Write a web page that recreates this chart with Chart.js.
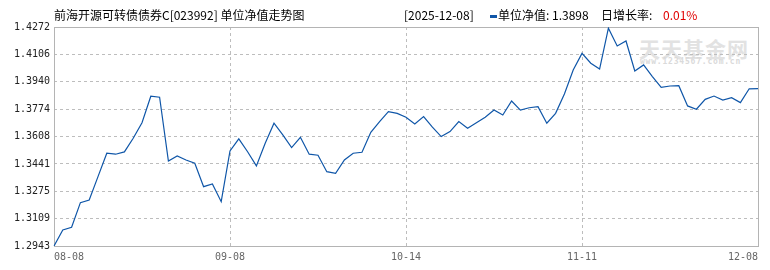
<!DOCTYPE html>
<html>
<head>
<meta charset="utf-8">
<script src="https://cdn.jsdelivr.net/npm/chart.js@4.4.1/dist/chart.umd.min.js"></script>
<style>
  html, body { margin: 0; padding: 0; background: #fff; }
  #wrap { position: relative; width: 770px; height: 270px; overflow: hidden; }
  #wrap canvas { position: absolute; left: 0; top: 0; z-index: 2; }
  .hd { position: absolute; top: 7px; font: 12px "Noto Sans CJK SC", sans-serif; color: #000; white-space: nowrap; line-height: 16px; z-index: 3; }
  .wm { position: absolute; z-index: 1; color: #e2e2e2; white-space: nowrap; }
</style>
</head>
<body>
<div id="wrap">
  <div class="hd" style="left:54px">前海开源可转债债券C[023992] 单位净值走势图</div>
  <div class="hd" style="left:404px">[2025-12-08]</div>
  <div class="hd" style="left:490px"><span style="display:inline-block;width:7px;height:3px;background:#0f56a8;vertical-align:middle;margin-right:1px"></span>单位净值: 1.3898</div>
  <div class="hd" style="left:601px">日增长率:</div>
  <div class="hd" style="left:663px;color:#e00000">0.01%</div>
  <div class="wm" style="left:639px;top:33px;font:bold 21px 'Noto Sans CJK SC',sans-serif;letter-spacing:1px">天天基金网</div>
  <div class="wm" style="left:640px;top:57px;font:bold 8px 'DejaVu Sans Mono',monospace;letter-spacing:0.8px;color:#dadada">www.1234567.com.cn</div>
  <canvas id="navChart" width="770" height="270"></canvas>
</div>
<script>
/* =========================
   DATA
========================= */
const dates = [
  "08-08","08-11","08-12","08-13","08-14","08-15","08-18","08-19","08-20","08-21",
  "08-22","08-25","08-26","08-27","08-28","08-29","09-01","09-02","09-03","09-04",
  "09-05","09-08","09-09","09-10","09-11","09-12","09-15","09-16","09-17","09-18",
  "09-19","09-22","09-23","09-24","09-25","09-26","09-29","09-30","10-09","10-10",
  "10-13","10-15","10-16","10-17","10-20","10-21","10-22","10-23","10-24","10-27",
  "10-28","10-29","10-30","10-31","11-03","11-04","11-05","11-06","11-07","11-10",
  "11-11","11-12","11-13","11-14","11-17","11-18","11-19","11-20","11-21","11-24",
  "11-25","11-26","11-27","11-28","12-01","12-02","12-03","12-04","12-05","12-06",
  "12-08"
];

const navValues = [
  1.2943, 1.3040, 1.3057, 1.3206, 1.3222, 1.3364, 1.3506, 1.3500, 1.3514, 1.3597,
  1.3691, 1.3852, 1.3846, 1.3459, 1.3489, 1.3465, 1.3445, 1.3303, 1.3319, 1.3212,
  1.3520, 1.3593, 1.3515, 1.3429, 1.3567, 1.3688, 1.3617, 1.3540, 1.3603, 1.3500,
  1.3494, 1.3394, 1.3384, 1.3465, 1.3506, 1.3512, 1.3633, 1.3698, 1.3758, 1.3748,
  1.3724, 1.3684, 1.3728, 1.3664, 1.3607, 1.3637, 1.3698, 1.3658, 1.3691, 1.3724,
  1.3768, 1.3738, 1.3823, 1.3768, 1.3782, 1.3788, 1.3688, 1.3748, 1.3866, 1.4011,
  1.4112, 1.4052, 1.4017, 1.4265, 1.4157, 1.4187, 1.4005, 1.4042, 1.3971, 1.3906,
  1.3914, 1.3916, 1.3793, 1.3773, 1.3833, 1.3853, 1.3829, 1.3843, 1.3813, 1.3897,
  1.3898
];

const yTickLabels = ["1.2943","1.3109","1.3275","1.3441","1.3608","1.3774","1.3940","1.4106","1.4272"];
const xTickIndex = [0, 20, 40, 60, 80];
const xTickLabels = ["08-08","09-08","10-14","11-11","12-08"];

/* =========================
   CHART
========================= */
(function initChart() {
  const yTicks = yTickLabels.map(Number);

  // plot frame (top/right/left/bottom) in solid gray
  const framePlugin = {
    id: "frame",
    beforeDatasetsDraw(chart) {
      const { ctx, chartArea: a } = chart;
      ctx.save();
      ctx.strokeStyle = "#b4b4b4";
      ctx.lineWidth = 1;
      ctx.strokeRect(Math.round(a.left) + 0.5, Math.round(a.top) + 0.5,
        Math.round(a.right - a.left), Math.round(a.bottom - a.top));
      ctx.restore();
    }
  };

  new Chart(document.getElementById("navChart"), {
    type: "line",
    data: {
      labels: dates,
      datasets: [{
        label: "单位净值",
        data: navValues,
        borderColor: "#0f56a8",
        borderWidth: 1.2,
        pointRadius: 0,
        tension: 0,
        fill: false
      }]
    },
    options: {
      responsive: false,
      animation: false,
      layout: { padding: { top: 27, right: 12, left: 0, bottom: 0 } },
      plugins: { legend: { display: false }, tooltip: { enabled: false } },
      scales: {
        x: {
          type: "category",
          offset: false,
          afterFit: s => { s.height = 24; },
          grid: {
            drawTicks: false,
            offset: false,
            // only the inner date lines, the frame covers both ends
            color: c => (c.index > 0 && c.index < xTickIndex.length - 1) ? "#bdbdbd" : "rgba(0,0,0,0)"
          },
          border: { display: false, dash: [3, 3] },
          ticks: {
            autoSkip: false,
            maxRotation: 0,
            align: "inner",
            padding: 5,
            color: "#666",
            font: { family: "DejaVu Sans Mono", size: 10 },
            callback: (v, i) => xTickLabels[i]
          },
          afterBuildTicks: s => { s.ticks = xTickIndex.map(v => ({ value: v })); }
        },
        y: {
          min: yTicks[0],
          max: yTicks[yTicks.length - 1],
          afterFit: s => { s.width = 54; },
          afterBuildTicks: s => { s.ticks = yTicks.map(v => ({ value: v })); },
          grid: {
            drawTicks: false,
            color: c => (c.index > 0 && c.index < yTicks.length - 1) ? "#bdbdbd" : "rgba(0,0,0,0)"
          },
          border: { display: false, dash: [3, 3] },
          ticks: {
            padding: 4,
            color: "#222",
            font: { family: "DejaVu Sans Mono", size: 10 },
            callback: (v, i) => yTickLabels[i]
          }
        }
      }
    },
    plugins: [framePlugin]
  });
})();
</script>
</body>
</html>
